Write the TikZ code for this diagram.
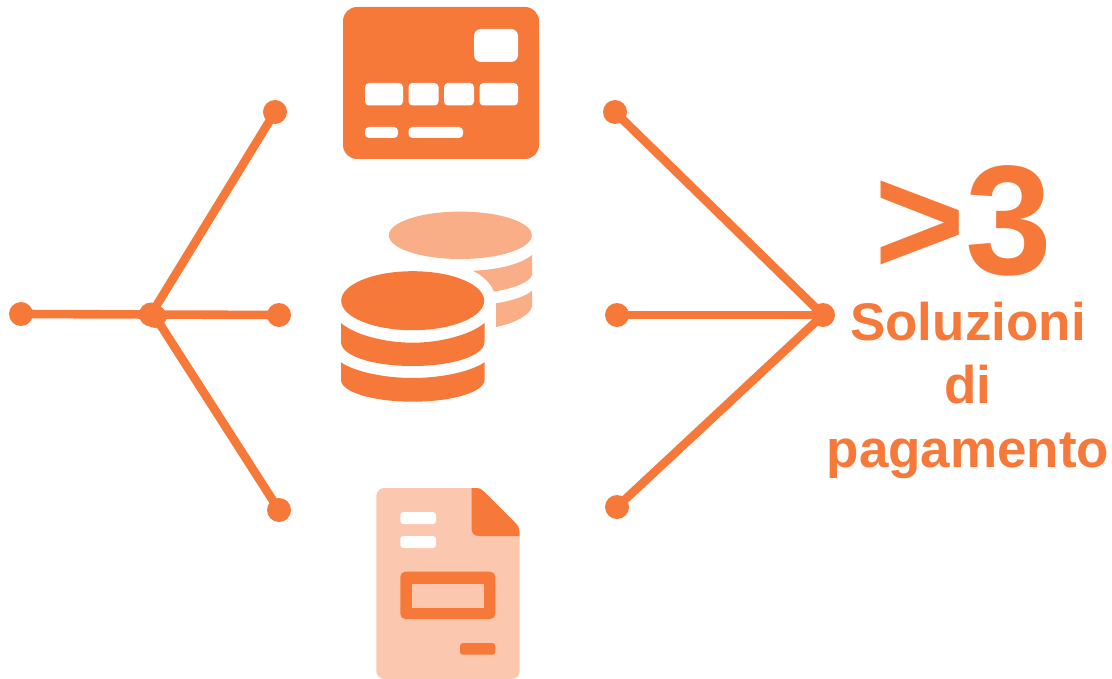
\documentclass[tikz,border=0pt]{standalone}
\usepackage{fontspec}
\setmainfont{Liberation Sans}
\definecolor{org}{HTML}{F7793A}
\definecolor{orgmid}{HTML}{FAAE87}
\definecolor{orglight}{HTML}{FCC7AF}
\tikzset{
  dot/.style={circle,fill=org,inner sep=0pt,minimum size=24pt},
  link/.style={draw=org,line width=8.6pt},
  bigtext/.style={text=org,font=\bfseries\fontsize{156}{156}\selectfont,inner sep=0pt},
  captext/.style={text=org,font=\bfseries\fontsize{53}{63.7}\selectfont,align=center,inner sep=0pt},
  hole/.style={fill=white,rounded corners=#1},
  hole/.default=4pt
}
\begin{document}
\begin{tikzpicture}[x=1pt,y=-1pt]
\useasboundingbox (0,0) rectangle (1112,679);
% left tree
\node[dot] (L0) at (21,314) {};
\node[dot] (LH) at (151,314.5) {};
\node[dot,minimum size=23pt] (LH2) at (155,316.5) {};
\node[dot] (L1) at (275,112) {};
\node[dot] (L2) at (279,315) {};
\node[dot] (L3) at (279,510) {};
\draw[link] (L0.center) -- (LH.center);
\draw[link] (LH.center) -- (L1.center);
\draw[link] (LH.center) -- (L2.center);
\draw[link] (LH2.center) -- (L3.center);
% right tree
\node[dot] (R1) at (615,112) {};
\node[dot] (R2) at (617,315) {};
\node[dot] (R3) at (617,507) {};
\node[dot] (RH) at (823,315) {};
\draw[link] (R1.center) -- (RH.center);
\draw[link] (R2.center) -- (RH.center);
\draw[link] (R3.center) -- (RH.center);
% card
\fill[org,rounded corners=14pt] (343,7) rectangle (539,159);
\fill[hole=7pt] (474,29) rectangle (518,62);
\fill[hole] (365,83) rectangle (403,105.5);
\fill[hole] (408.5,83) rectangle (438.5,105.5);
\fill[hole] (444,83) rectangle (474,105.5);
\fill[hole] (479.5,83) rectangle (518,105.5);
\fill[hole] (365,127) rectangle (398,138);
\fill[hole] (408.5,127) rectangle (463,138);
% light coins
\fill[orgmid] (460.3,235.3) ellipse [x radius=71.5pt,y radius=23.7pt];
\fill[orgmid] (472.7,270.7) .. controls (495,270) and (520,265) .. (532,255) -- (532,275)
  .. controls (530,282) and (515,288) .. (494,291.7)
  .. controls (490,282) and (483,276) .. (472.7,270.7) -- cycle;
\fill[orgmid] (532,290.7) -- (532,306.7) .. controls (530,315) and (515,323) .. (496,327)
  -- (496,303.3) .. controls (510,301) and (525,297) .. (532,290.7) -- cycle;
% dark coins
\fill[org] (412.7,300.7) ellipse [x radius=71.5pt,y radius=29.5pt];
\fill[org] (341,323) .. controls (355,335) and (385,342.7) .. (412.7,342.7)
  .. controls (440,342.7) and (470,335) .. (484.5,323) -- (484.5,342)
  .. controls (484.5,356) and (452,366) .. (412.7,366)
  .. controls (373,366) and (341,356) .. (341,342) -- cycle;
\fill[org] (341,362.3) .. controls (355,372) and (385,378) .. (412.7,378)
  .. controls (440,378) and (470,372) .. (484.5,362.3) -- (484.5,380)
  .. controls (484.5,392) and (452,401.7) .. (412.7,401.7)
  .. controls (373,401.7) and (341,392) .. (341,380) -- cycle;
% document
\fill[orglight,rounded corners=8pt] (376.3,488) -- (478,488) -- (519.7,530) -- (519.7,679) -- (376.3,679) -- cycle;
\fill[org] (471.7,488) -- (476,488) .. controls (480,488) and (482,489.5) .. (484,491.5)
  -- (516.5,524) .. controls (518.5,526) and (519.7,529) .. (519.7,536)
  -- (479,536) .. controls (474,536) and (471.7,533) .. (471.7,529) -- cycle;
\fill[hole=3pt] (400.3,512) rectangle (436,524);
\fill[hole=3pt] (400.3,536) rectangle (436,548);
\fill[org,rounded corners=5pt] (400.3,571.7) rectangle (495.3,619);
\fill[orglight] (412,583.5) rectangle (484,607.5);
\fill[org,rounded corners=3pt] (460,643) rectangle (495.3,654.7);
% text
\node[bigtext,anchor=base] (big) at (963.5,275) {>3};
\node[captext,anchor=base] (cap) at (968,467.5) {Soluzioni\\di\\pagamento};
\end{tikzpicture}
\end{document}
